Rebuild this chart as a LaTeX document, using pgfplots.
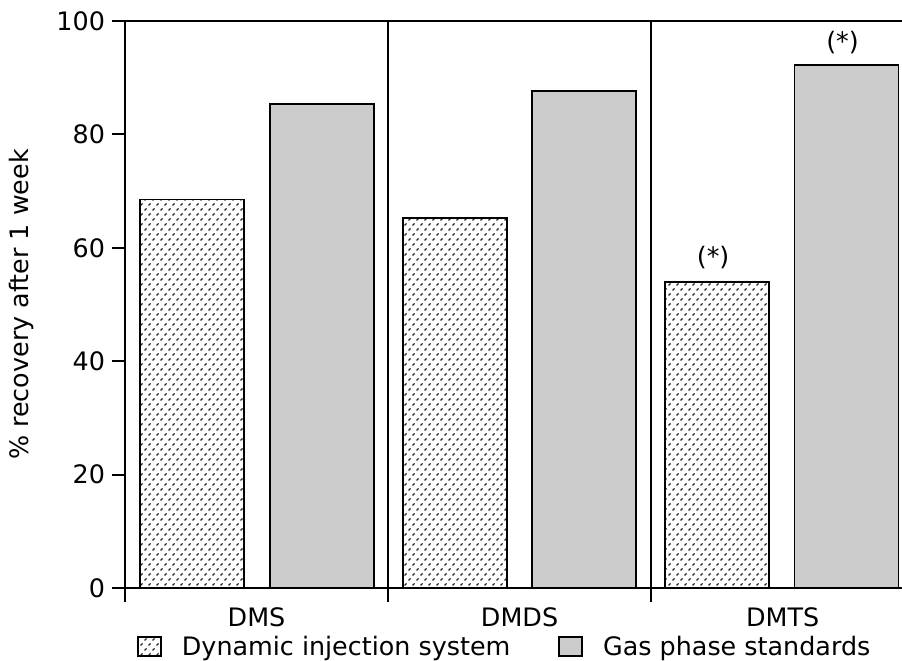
\documentclass[border=0pt]{standalone}
\usepackage{pgfplots}
\pgfplotsset{compat=1.18}
\usepackage{fontspec}
\setmainfont{DejaVu Sans}
\usetikzlibrary{patterns}

% small staggered "/" dashes, like the original fill
\pgfdeclarepatternformonly{dashes}{\pgfqpoint{-1pt}{-1pt}}{\pgfqpoint{5pt}{6pt}}{\pgfqpoint{4pt}{5pt}}{%
  \pgfsetlinewidth{0.55pt}%
  \pgfpathmoveto{\pgfqpoint{0.3pt}{0.3pt}}\pgfpathlineto{\pgfqpoint{1.3pt}{1.3pt}}%
  \pgfpathmoveto{\pgfqpoint{2.3pt}{2.8pt}}\pgfpathlineto{\pgfqpoint{3.3pt}{3.8pt}}%
  \pgfusepath{stroke}}

\def\fs{\fontsize{12.7}{15}\selectfont}

\begin{document}
\begin{tikzpicture}
\begin{axis}[
  scale only axis, width=388.5pt, height=283.5pt,
  xmin=0, xmax=2.954, ymin=0, ymax=100,
  axis y line*=left,
  axis line style={line width=1pt},
  every tick/.style={black, line width=1pt},
  tick align=outside,
  ytick={0,20,...,100}, major tick length=6.5pt,
  xtick={0.5,1.5,2.5}, xticklabels={DMS,DMDS,DMTS}, xtick pos=bottom,
  major x tick style={draw=none},
  minor xtick={0,1,2}, minor tick length=7pt,
  xminorgrids, minor grid style={black, line width=1pt},
  ticklabel style={font=\fs},
  /pgf/number format/assume math mode=true,
  ylabel={\% recovery after 1 week},
  ylabel style={font=\fs, at={(axis description cs:-0.133,0.5)}, anchor=center},
  ybar, bar width=0.396, bar shift=0pt,
  clip=false,
  legend columns=2,
  legend style={draw=none, fill=none, font=\fs,
    at={(0.49,-0.104)}, anchor=center,
    /tikz/every odd column/.append style={column sep=8pt},
    /tikz/every even column/.append style={column sep=22pt}},
  legend image code/.code={\draw[#1, line width=0.9pt] (0pt,-0.45em) rectangle (11.5pt,0.5em);},
]
\addplot[draw=black, line width=0.9pt, pattern=dashes, pattern color=black!85]
  coordinates {(0.255,68.5) (1.255,65.3) (2.251,53.9)};
\addlegendentry{Dynamic injection system}
\addplot[draw=black, line width=0.9pt, fill=black!20]
  coordinates {(0.748,85.4) (1.745,87.6) (2.743,92.3)};
\addlegendentry{Gas phase standards}

\node[anchor=south, inner sep=0pt, font=\fs] at (axis cs:2.236,53.9) [yshift=6.5pt] {(*)};
\node[anchor=south, inner sep=0pt, font=\fs] at (axis cs:2.728,92.3) [yshift=5pt] {(*)};

\coordinate (sw) at (rel axis cs:0,0);
\coordinate (ne) at (rel axis cs:1,1);
\end{axis}
\pgfresetboundingbox
\path[use as bounding box] ([xshift=-62.5pt,yshift=-36.5pt]sw) rectangle ([yshift=10.5pt]ne);
\end{tikzpicture}
\end{document}
